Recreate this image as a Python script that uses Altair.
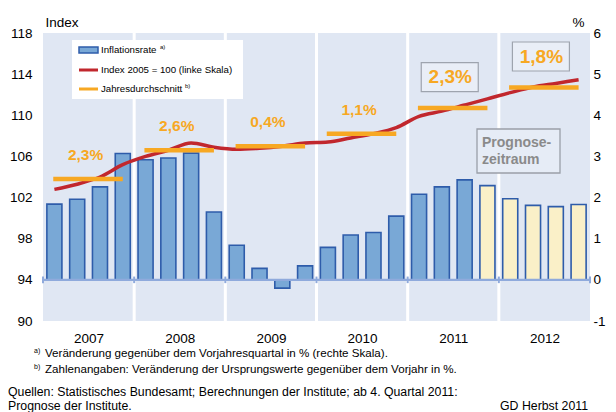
import json
import altair as alt
import pandas as pd

# ---------------- data ----------------
years = ["2007", "2008", "2009", "2010", "2011", "2012"]
# quarterly inflation rate, % yoy (right scale)
inflation = [1.84, 1.96, 2.26, 3.07,
             2.92, 2.96, 3.08, 1.65,
             0.84, 0.28, -0.20, 0.34,
             0.79, 1.09, 1.15, 1.55,
             2.08, 2.26, 2.43, 2.29,
             1.97, 1.81, 1.78, 1.83]
# consumer price index 2005 = 100 (left scale)
index_2005 = [102.8, 103.3, 104.0, 105.2,
              106.0, 106.6, 107.3, 106.9,
              106.7, 106.8, 107.0, 107.3,
              107.4, 107.8, 108.2, 108.8,
              109.9, 110.4, 111.0, 111.6,
              112.2, 112.75, 113.1, 113.45]
forecast_start = 19          # from Q4 2011 on: forecast
annual_avg = [103.8, 106.6, 107.0, 108.2, 110.7, 112.7]
annual_change = ["2,3%", "2,6%", "0,4%", "1,1%", "2,3%", "1,8%"]
left_ticks = [90, 94, 98, 102, 106, 110, 114, 118]
right_ticks = [-1, 0, 1, 2, 3, 4, 5, 6]

# ---------------- styling ----------------
FONT = "Liberation Sans"
BG = "#E0E7F3"
BAR_FILL = "#79A8D6"
BAR_FORECAST = "#FAF0C8"
BAR_STROKE = "#2E5CAA"
RED = "#C1272D"
ORANGE = "#F7A823"
BASE = "#8FAADC"

W, H = 547, 288
n = len(inflation)

qdf = pd.DataFrame({
    "pos": [i + 0.5 for i in range(n)],
    "x0": [i + 0.17 for i in range(n)],
    "x1": [i + 0.83 for i in range(n)],
    "infl": inflation,
    "idx": index_2005,
    "typ": ["Prognose" if i >= forecast_start else "Ist" for i in range(n)],
})
ydf = pd.DataFrame({
    "year": years,
    "xc": [4 * k + 2 for k in range(len(years))],
    "xa": [4 * k + 0.45 for k in range(len(years))],
    "xb": [4 * k + 3.5 for k in range(len(years))],
    "avg": annual_avg,
    "lab": annual_change,
})
sep_df = pd.DataFrame({"b": [4 * k for k in range(1, len(years))]})
btick_df = pd.DataFrame({"b": [4 * k for k in range(len(years) + 1)]})
one = pd.DataFrame({"k": [0]})

xs = alt.Scale(domain=[0, 24], nice=False, zero=False)
x_axis = alt.Axis(values=[4 * k + 2 for k in range(len(years))],
                  labelExpr=json.dumps(years) + "[floor(datum.value/4)]",
                  ticks=False, domain=False, grid=False, title=None,
                  labelFontSize=13.5, labelPadding=10, labelColor="#000",
                  labelFont=FONT)


def X(f):
    return alt.X(f + ":Q", scale=xs, axis=x_axis)


ys_left = alt.Scale(domain=[90, 118], nice=False, zero=False)
left_axis = alt.Axis(orient="left", values=left_ticks, grid=False, domain=False,
                     ticks=False, labelFontSize=13.5, labelColor="#000",
                     labelPadding=11, labelFont=FONT, title="Index", titleAngle=0,
                     titleAlign="left", titleBaseline="alphabetic", titleX=2,
                     titleY=-7, titleFontSize=13.5, titleFontWeight="normal",
                     titleFont=FONT, titleColor="#000")
ys_right = alt.Scale(domain=[-1, 6], nice=False, zero=False)
right_axis = alt.Axis(orient="right", values=right_ticks, grid=False, domain=False,
                      ticks=False, labelFontSize=13.5, labelColor="#000",
                      labelPadding=3, labelFont=FONT,
                      labelExpr="datum.value < 0 ? '-' + abs(datum.value) : '' + datum.value",
                      title="%", titleAngle=0,
                      titleAlign="left", titleBaseline="alphabetic", titleX=-18,
                      titleY=-7, titleFontSize=13.5, titleFontWeight="normal",
                      titleFont=FONT, titleColor="#000")


def YL(f):
    return alt.Y(f + ":Q", scale=ys_left, axis=left_axis)


def YR(f):
    return alt.Y(f + ":Q", scale=ys_right, axis=right_axis)


# ---------------- right-scale group ----------------
separators = alt.Chart(sep_df).mark_rule(color="white", strokeWidth=3).encode(x=X("b"))

bars = alt.Chart(qdf).mark_bar(stroke=BAR_STROKE, strokeWidth=1.6).encode(
    x=X("x0"), x2="x1:Q",
    y=YR("infl"), y2=alt.datum(0),
    fill=alt.Fill("typ:N", scale=alt.Scale(domain=["Ist", "Prognose"],
                                           range=[BAR_FILL, BAR_FORECAST]),
                  legend=None),
)
baseline = alt.Chart(one).mark_rule(color=BASE, strokeWidth=2.2).encode(
    y=alt.datum(0))
base_ticks = alt.Chart(btick_df).mark_rule(color=BASE, strokeWidth=2).encode(
    x=X("b"), y=alt.datum(-0.08), y2=alt.datum(0.08))

right_group = alt.layer(separators, bars, baseline, base_ticks)

# ---------------- left-scale group ----------------
index_line = alt.Chart(qdf).mark_line(color=RED, strokeWidth=3.5,
                                      interpolate="monotone").encode(
    x=X("pos"), y=YL("idx"))
avg_rules = alt.Chart(ydf).mark_rule(color=ORANGE, strokeWidth=4.5).encode(
    x=X("xa"), x2="xb:Q", y=YL("avg"))

early = ydf.iloc[:4]
late = ydf.iloc[4:]
labels_early = alt.Chart(early).mark_text(
    color=ORANGE, fontSize=15.5, fontWeight="bold", font=FONT, dy=-24, dx=-3
).encode(x=X("xc"), y=YL("avg"), text="lab:N")
boxes_late = alt.Chart(late).mark_point(
    shape="M-32,-45.5H25V-16.5H-32Z", size=4, filled=True, fill="#E9EEF7",
    stroke="#9EA4AE", strokeWidth=1.2, opacity=1
).encode(x=X("xc"), y=YL("avg"))
labels_late = alt.Chart(late).mark_text(
    color=ORANGE, fontSize=19, fontWeight="bold", font=FONT, dy=-31, dx=-3
).encode(x=X("xc"), y=YL("avg"), text="lab:N")

# forecast box
prog_box = alt.Chart(one).mark_rect(fill="#E6ECF6", stroke="#9A9FA8",
                                    strokeWidth=1.3).encode(
    x=alt.value(434), x2=alt.value(517), y=alt.value(96), y2=alt.value(140))
prog_t1 = alt.Chart(one).mark_text(text="Prognose-", align="left", fontSize=14,
                                   fontWeight="bold", color="#8A8A8A", font=FONT).encode(
    x=alt.value(439), y=alt.value(110))
prog_t2 = alt.Chart(one).mark_text(text="zeitraum", align="left", fontSize=14,
                                   fontWeight="bold", color="#8A8A8A", font=FONT).encode(
    x=alt.value(439), y=alt.value(127))

# legend (hand-built)
leg_box = alt.Chart(one).mark_rect(fill="white").encode(
    x=alt.value(29), x2=alt.value(200), y=alt.value(7), y2=alt.value(66))
leg_bar = alt.Chart(one).mark_rect(fill=BAR_FILL, stroke=BAR_STROKE, strokeWidth=1.5).encode(
    x=alt.value(36), x2=alt.value(55), y=alt.value(14), y2=alt.value(20))
leg_red = alt.Chart(one).mark_rule(color=RED, strokeWidth=3).encode(
    x=alt.value(36), x2=alt.value(55), y=alt.value(37))
leg_orange = alt.Chart(one).mark_rule(color=ORANGE, strokeWidth=3).encode(
    x=alt.value(36), x2=alt.value(55), y=alt.value(56))


def txt(s, x, y, size, align="left", weight="normal", color="#000"):
    return alt.Chart(one).mark_text(text=s, align=align, baseline="middle",
                                    fontSize=size, fontWeight=weight, color=color,
                                    font=FONT).encode(x=alt.value(x), y=alt.value(y))


leg_texts = [
    txt("Inflationsrate", 58, 17, 9.7),
    txt("a)", 117, 14, 6),
    txt("Index 2005 = 100 (linke Skala)", 58, 37, 9.7),
    txt("Jahresdurchschnitt", 58, 56, 9.7),
    txt("b)", 142, 53, 6),
]

foot = [
    txt("a)", -9, 318, 7),
    txt("Veränderung gegenüber dem Vorjahresquartal in % (rechte Skala).", 2, 321, 11.6),
    txt("b)", -9, 334, 7),
    txt("Zahlenangaben: Veränderung der Ursprungswerte gegenüber dem Vorjahr in %.", 2, 337, 11.6),
    txt("Quellen: Statistisches Bundesamt; Berechnungen der Institute; ab 4. Quartal 2011:", -35, 359, 12.3),
    txt("Prognose der Institute.", -35, 373, 12.3),
    txt("GD Herbst 2011", 545, 373, 12.3, align="right"),
]

left_group = alt.layer(index_line, avg_rules, labels_early, boxes_late, labels_late,
                       prog_box, prog_t1, prog_t2, leg_box, leg_bar, leg_red,
                       leg_orange, *leg_texts, *foot)

chart = alt.layer(right_group, left_group).resolve_scale(y="independent").properties(
    width=W, height=H,
    padding={"left": 35, "top": 25, "right": 18, "bottom": 91},
    autosize=alt.AutoSizeParams(type="none"),
    background="white",
).configure_view(fill=BG, stroke=None)

chart.save("out.html", embed_options={"renderer": "svg", "actions": False})
